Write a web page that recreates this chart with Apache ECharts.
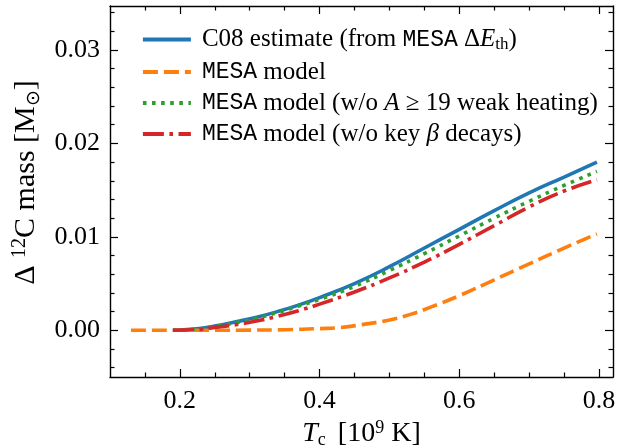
<!DOCTYPE html>
<html>
<head>
<meta charset="utf-8">
<script src="https://cdn.jsdelivr.net/npm/echarts@6/dist/echarts.min.js"></script>
<style>
  html, body { margin: 0; padding: 0; background: #fff; }
  #chart { width: 619px; height: 446px; }
</style>
</head>
<body>
<div id="chart"></div>
<script>
// Central temperature grid (10^9 K) and carbon-12 mass change (Msun)
const tempMain = [0.19, 0.22, 0.25, 0.28, 0.31, 0.34, 0.37, 0.40, 0.45, 0.50, 0.55, 0.60, 0.65, 0.70, 0.75, 0.797];
const c08Estimate = [0, 0.00012, 0.00045, 0.0009, 0.0014, 0.0020, 0.0027, 0.0035, 0.0050, 0.0068, 0.0088, 0.0108, 0.0128, 0.0147, 0.0164, 0.0180];
const noWeakHeating = [0, 0.0001, 0.0004, 0.0008, 0.0013, 0.0019, 0.0026, 0.0033, 0.0047, 0.0064, 0.0082, 0.0101, 0.0120, 0.0138, 0.0155, 0.0170];
const noBetaDecays = [0, 0.00005, 0.0003, 0.0006, 0.0010, 0.0015, 0.0021, 0.0028, 0.0041, 0.0056, 0.0073, 0.0092, 0.0112, 0.0132, 0.0149, 0.0161];

const tempMesa = [0.13, 0.20, 0.25, 0.30, 0.35, 0.40, 0.43, 0.46, 0.50, 0.53, 0.56, 0.60, 0.65, 0.70, 0.75, 0.797];
const mesaModel = [0, 0, 0, 0.00002, 0.00006, 0.00018, 0.0003, 0.0006, 0.0011, 0.0017, 0.0025, 0.0037, 0.0054, 0.0071, 0.0088, 0.0103];

// Tick positions
const xMajorTicks = [0.2, 0.4, 0.6, 0.8];
const xMinorTicks = [0.15, 0.25, 0.3, 0.35, 0.45, 0.5, 0.55, 0.65, 0.7, 0.75];
const yMajorTicks = [0.00, 0.01, 0.02, 0.03];
const yMinorTicks = [-0.004, -0.002, 0.002, 0.004, 0.006, 0.008, 0.012, 0.014, 0.016, 0.018, 0.022, 0.024, 0.026, 0.028, 0.032, 0.034];

const seriesNames = ['c08', 'mesa', 'noweak', 'nobeta'];
const legendLabels = {
  c08: '{p|C08 estimate (from }{m|MESA}{n| Δ}{i|E}{sub|th}{n|)}',
  mesa: '{p|}{m|MESA}{n| model}',
  noweak: '{p|}{m|MESA}{n| model (w/o }{i|A}{n| ≥ 19 weak heating)}',
  nobeta: '{p|}{m|MESA}{n| model (w/o key }{i|β}{n| decays)}'
};

const pairs = (xs, ys) => xs.map((x, i) => [x, ys[i]]);

const SERIF = 'Liberation Serif, Times New Roman, serif';
const MONO = 'Liberation Mono, DejaVu Sans Mono, monospace';

const legendRich = {
  p: { fontFamily: SERIF, fontSize: 25, lineHeight: 28, padding: [0, 0, 0, 6], color: '#000', verticalAlign: 'middle' },
  n: { fontFamily: SERIF, fontSize: 25, lineHeight: 28, color: '#000', verticalAlign: 'middle' },
  i: { fontFamily: SERIF, fontSize: 25, fontStyle: 'italic', lineHeight: 28, color: '#000', verticalAlign: 'middle' },
  m: { fontFamily: MONO, fontSize: 23, lineHeight: 28, color: '#000', verticalAlign: 'middle' },
  sub: { fontFamily: SERIF, fontSize: 17, lineHeight: 18, color: '#000', verticalAlign: 'bottom' }
};

const yNameRich = {
  n: { fontFamily: SERIF, fontSize: 30, lineHeight: 34, color: '#000', verticalAlign: 'middle' },
  lead: { fontFamily: SERIF, fontSize: 30, lineHeight: 34, color: '#000', verticalAlign: 'middle', padding: [0, 0, 0, 18] },
  sup: { fontFamily: SERIF, fontSize: 20, lineHeight: 18, color: '#000', verticalAlign: 'top' },
  sub: { fontFamily: SERIF, fontSize: 19, lineHeight: 22, color: '#000', verticalAlign: 'bottom' }
};

const xNameRich = {
  n: { fontFamily: SERIF, fontSize: 28, lineHeight: 30, color: '#000', verticalAlign: 'middle' },
  gap: { fontFamily: SERIF, fontSize: 28, lineHeight: 30, color: '#000', verticalAlign: 'middle', padding: [0, 0, 0, 5] },
  i: { fontFamily: SERIF, fontSize: 28, fontStyle: 'italic', lineHeight: 30, color: '#000', verticalAlign: 'middle' },
  sup: { fontFamily: SERIF, fontSize: 18, lineHeight: 16, color: '#000', verticalAlign: 'top' },
  sub: { fontFamily: SERIF, fontSize: 18, lineHeight: 20, color: '#000', verticalAlign: 'bottom' }
};

const axisLineStyle = { color: '#000', width: 1.4 };

function xAxisDef(position, ticks, len, showLabel, showLine) {
  return {
    type: 'value', position: position, min: 0.1, max: 0.82,
    axisLine: { show: showLine, onZero: false, lineStyle: axisLineStyle },
    axisTick: { show: true, inside: true, length: len, customValues: ticks, lineStyle: { color: '#000', width: 1.2 } },
    axisLabel: showLabel ? {
      show: true, customValues: ticks, margin: 11,
      fontFamily: SERIF, fontSize: 26, color: '#000',
      formatter: v => v.toFixed(1)
    } : { show: false },
    splitLine: { show: false }
  };
}

function yAxisDef(position, ticks, len, showLabel, showLine) {
  return {
    type: 'value', position: position, min: -0.005, max: 0.0347,
    axisLine: { show: showLine, onZero: false, lineStyle: axisLineStyle },
    axisTick: { show: true, inside: true, length: len, customValues: ticks, lineStyle: { color: '#000', width: 1.2 } },
    axisLabel: showLabel ? {
      show: true, customValues: ticks, margin: 10,
      fontFamily: SERIF, fontSize: 26, color: '#000',
      formatter: v => v.toFixed(2)
    } : { show: false },
    splitLine: { show: false }
  };
}

const xAxes = [
  xAxisDef('bottom', xMajorTicks, 8, true, true),
  xAxisDef('bottom', xMinorTicks, 4.5, false, false),
  xAxisDef('top', xMajorTicks, 8, false, true),
  xAxisDef('top', xMinorTicks, 4.5, false, false)
];
xAxes[0].name = '{i|T}{sub|c}{gap| [10}{sup|9}{n| K]}';
xAxes[0].nameLocation = 'middle';
xAxes[0].nameGap = 24;
xAxes[0].nameTextStyle = { rich: xNameRich };

const yAxes = [
  yAxisDef('left', yMajorTicks, 8, true, true),
  yAxisDef('left', yMinorTicks, 4.5, false, false),
  yAxisDef('right', yMajorTicks, 8, false, true),
  yAxisDef('right', yMinorTicks, 4.5, false, false)
];
yAxes[0].name = '{lead|Δ }{sup|12}{n|C mass [M}{sub|⊙}{n|]}';
yAxes[0].nameLocation = 'middle';
yAxes[0].nameRotate = 90;
yAxes[0].nameGap = 62;
yAxes[0].nameTextStyle = { rich: yNameRich };

function lineSeries(name, data, color, dash) {
  return {
    name: name, type: 'line', data: data, xAxisIndex: 0, yAxisIndex: 0,
    showSymbol: false, symbol: 'none', smooth: true,
    lineStyle: { color: color, width: 3.6, type: dash, cap: 'butt' },
    itemStyle: { color: color },
    emphasis: { disabled: true }
  };
}

const chart = echarts.init(document.getElementById('chart'), null, { renderer: 'canvas' });
chart.setOption({
  animation: false,
  backgroundColor: '#fff',
  grid: { left: 110, right: 6, top: 6, bottom: 69, outerBoundsMode: 'none' },
  legend: {
    show: true, orient: 'vertical', left: 136, top: 22,
    itemWidth: 48, itemHeight: 14, itemGap: 6,
    selectedMode: false,
    data: seriesNames,
    formatter: name => legendLabels[name],
    itemStyle: { opacity: 0 },
    lineStyle: { width: 3.8 },
    textStyle: { rich: legendRich }
  },
  xAxis: xAxes,
  yAxis: yAxes,
  series: [
    lineSeries('c08', pairs(tempMain, c08Estimate), '#1f77b4', 'solid'),
    lineSeries('mesa', pairs(tempMesa, mesaModel), '#ff7f0e', [15, 6]),
    lineSeries('noweak', pairs(tempMain, noWeakHeating), '#2ca02c', [3.6, 5.5]),
    lineSeries('nobeta', pairs(tempMain, noBetaDecays), '#d62728', [21, 5.5, 3.6, 5.5])
  ]
});
</script>
</body>
</html>
